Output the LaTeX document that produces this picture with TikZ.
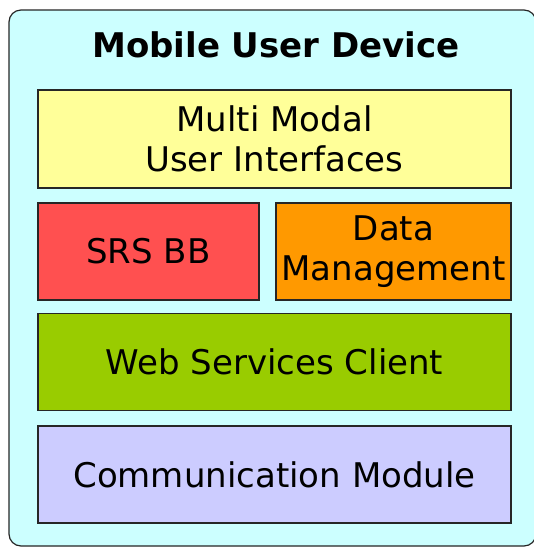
\documentclass[tikz,border=0pt]{standalone}
\usepackage{fontspec}
\setmainfont{DejaVu Sans}
\definecolor{bgc}{HTML}{CCFFFF}
\definecolor{yel}{HTML}{FFFF99}
\definecolor{redc}{HTML}{FF5050}
\definecolor{ora}{HTML}{FF9900}
\definecolor{gre}{HTML}{99CC00}
\definecolor{pur}{HTML}{CCCCFF}
\begin{document}
\begin{tikzpicture}[x=1pt,y=-1pt,
  layer/.style={draw=black!85,line width=1.2pt,inner sep=0pt,font=\fontsize{34}{40}\selectfont,align=center},
]
\useasboundingbox (0,0) rectangle (534,547);
\node[draw=black!85,line width=1.2pt,fill=bgc,rounded corners=12pt,minimum width=527pt,minimum height=536pt,inner sep=0pt] (dev) at (272.5,278) {};
\node[font=\bfseries\fontsize{34}{40}\selectfont] (title) at (276,45) {Mobile User Device};
\node[layer,fill=yel,minimum width=473pt,minimum height=98pt] (mmui) at (274.5,139) {Multi Modal\\User Interfaces};
\node[layer,fill=redc,minimum width=221pt,minimum height=97pt] (srs) at (148.5,251.5) {SRS BB};
\node[layer,fill=ora,minimum width=235pt,minimum height=97pt] (dm) at (393.5,251.5) {Data\\Management};
\node[layer,fill=gre,minimum width=473pt,minimum height=97pt] (wsc) at (274.5,362) {Web Services Client};
\node[layer,fill=pur,minimum width=473pt,minimum height=97pt] (cm) at (274.5,474.5) {Communication Module};
\end{tikzpicture}
\end{document}
